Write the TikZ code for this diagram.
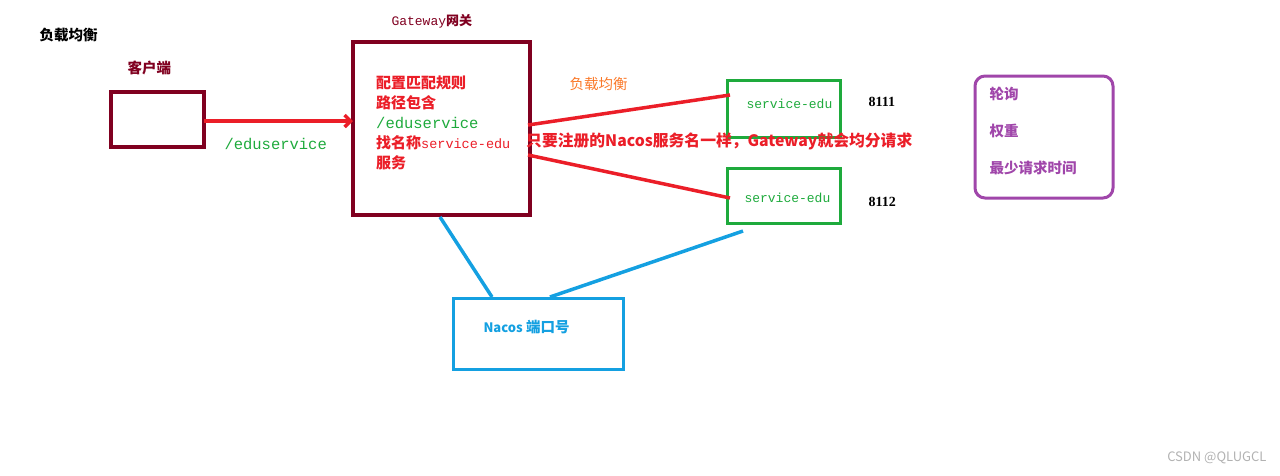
\documentclass[tikz,border=0pt]{standalone}
\usepackage{fontspec}
\usetikzlibrary{arrows.meta}
\setmainfont{Liberation Serif}
\setmonofont{Liberation Mono}
\newfontfamily\cjk{Noto Sans CJK SC}
\begin{document}
\begin{tikzpicture}[x=1pt, y=-1pt, every node/.style={font=\cjk\bfseries\fontsize{14.5}{17}\selectfont}]
        % Colours of the sketch
        \definecolor{gwColor}{RGB}{128,0,32}
        \definecolor{lbRed}{RGB}{235,30,40}
        \definecolor{svcGreen}{RGB}{30,170,60}
        \definecolor{nacosBlue}{RGB}{20,160,225}
        \definecolor{algoPurple}{RGB}{160,70,170}
        \definecolor{lbOrange}{RGB}{250,120,40}

        \tikzset{
            link/.style={line width=3.5pt}
        }

        \useasboundingbox (0,0) rectangle (1280,475);

        % Boxes
        \draw[gwColor, line width=3.5pt] (111,92) rectangle (204,147);
        \coordinate (client_e) at (204,121);
        \draw[gwColor, line width=3.5pt] (353,42) rectangle (530,215);
        \coordinate (gw_w) at (353,121);
        \coordinate (gw_a) at (528,125);
        \coordinate (gw_b) at (528,155);
        \coordinate (gw_s) at (440,217);
        \draw[svcGreen, line width=3pt] (727,80) rectangle (840,137);
        \coordinate (s1_w) at (730,95);
        \draw[svcGreen, line width=3pt] (727,168) rectangle (840,223);
        \coordinate (s2_w) at (730,198);
        \coordinate (s2_s) at (743,231);
        \draw[nacosBlue, line width=3pt] (453,298) rectangle (623,369);
        \coordinate (nc_a) at (492,297);
        \coordinate (nc_b) at (550,297);
        \draw[algoPurple, line width=3pt, rounded corners=10pt] (975,76) rectangle (1113,198);

        % Connectors
        \draw[link, lbRed, -{Straight Barb[length=6pt, width=12pt]}] (client_e) -- (gw_w);
        \draw[link, lbRed] (gw_a) -- (s1_w);
        \draw[link, lbRed] (gw_b) -- (s2_w);
        \draw[link, nacosBlue] (gw_s) -- (nc_a);
        \draw[link, nacosBlue] (s2_s) -- (nc_b);

        % Labels
        \node[anchor=west] (title) at (36,35) {负载均衡};
        \node[gwColor, anchor=west] (clientLbl) at (124,68) {客户端};
        \node[gwColor, anchor=west] (gwLbl) at (388,21) {\ttfamily\mdseries\fontsize{13}{15}\selectfont Gateway\cjk\bfseries 网关};
        \node[svcGreen, anchor=west, font=\ttfamily\fontsize{15.5}{18}\selectfont] (pathLbl) at (221,144) {/eduservice};
        \node[lbRed, anchor=north west, align=left, inner sep=0pt, font=\cjk\bfseries\fontsize{15}{20}\selectfont] (rules) at (376,76)
            {配置匹配规则\\路径包含\\\textcolor{svcGreen}{\ttfamily\mdseries\fontsize{15.5}{18}\selectfont/eduservice}\\找名称{\ttfamily\mdseries\fontsize{13.5}{16}\selectfont service-edu}\\服务};
        \node[lbOrange, anchor=west, font=\cjk\fontsize{14.5}{17}\selectfont] (lbLbl) at (566,84) {负载均衡};
        \node[svcGreen, anchor=west, font=\ttfamily\fontsize{13}{15}\selectfont] (s1) at (743,104) {service-edu};
        \node[svcGreen, anchor=west, font=\ttfamily\fontsize{13}{15}\selectfont] (s2) at (741,198) {service-edu};
        \node[anchor=west, font=\rmfamily\bfseries\fontsize{14}{16}\selectfont] (p1) at (865,102) {8111};
        \node[anchor=west, font=\rmfamily\bfseries\fontsize{14}{16}\selectfont] (p2) at (865,202) {8112};
        \node[lbRed, anchor=west, font=\cjk\bfseries\fontsize{15.8}{18}\selectfont, inner sep=1pt] (note) at (525,141) {只要注册的Nacos服务名一样，Gateway就会均分请求};
        \node[nacosBlue, anchor=west] (nacosLbl) at (480,327) {{\fontsize{13}{15}\selectfont Nacos} 端口号};
        \node[algoPurple, anchor=west] (a1) at (986,94) {轮询};
        \node[algoPurple, anchor=west] (a2) at (986,131) {权重};
        \node[algoPurple, anchor=west] (a3) at (986,168) {最少请求时间};
        \node[gray!60, anchor=east, font=\cjk\fontsize{13}{15}\selectfont] (mark) at (1270,458) {CSDN @QLUGCL};
\end{tikzpicture}
\end{document}
